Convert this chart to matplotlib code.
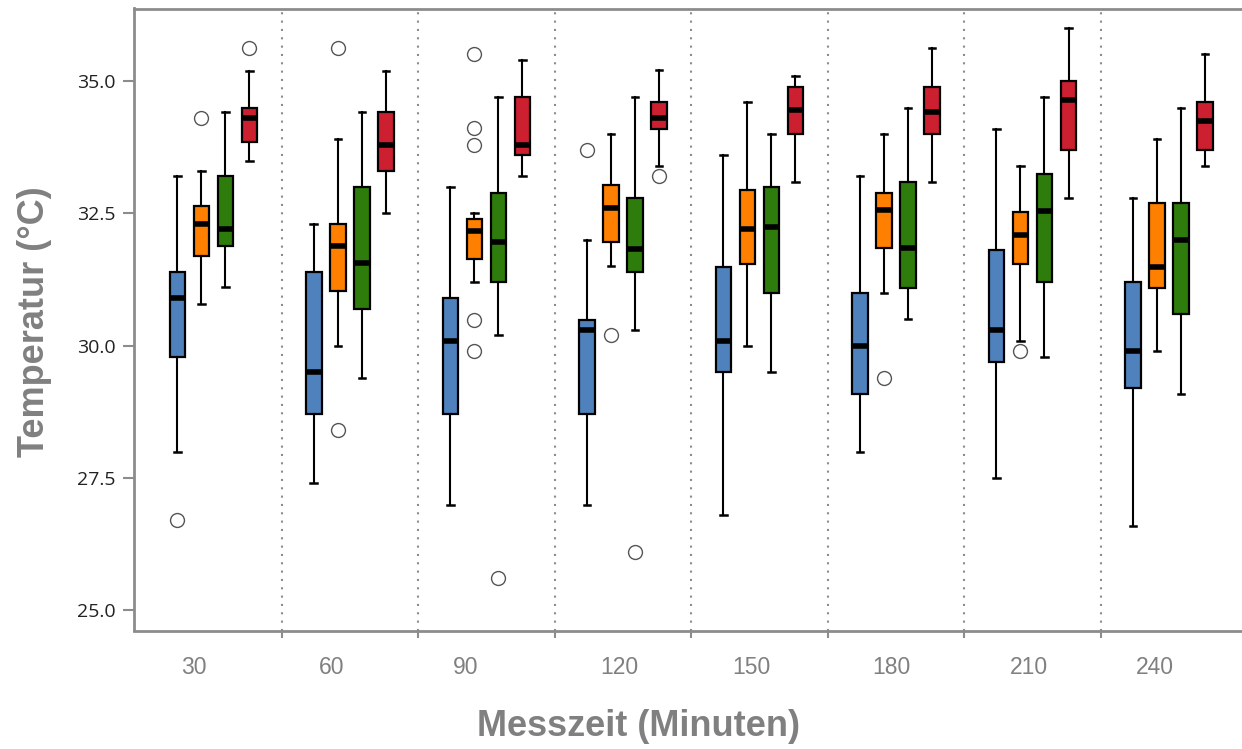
import matplotlib
matplotlib.use("Agg")
import matplotlib.pyplot as plt
from matplotlib.ticker import FixedLocator

# ---------------- data ----------------
times = ["30", "60", "90", "120", "150", "180", "210", "240"]
series_names = ["A", "B", "C", "D"]

# per series: lists over the 8 time points
blue_low = [27.99, 27.39, 26.99, 26.99, 26.79, 27.99, 27.49, 26.59]
blue_q1 = [29.78, 28.70, 28.70, 28.70, 29.49, 29.09, 29.69, 29.19]
blue_med = [30.89, 29.49, 30.09, 30.30, 30.09, 29.99, 30.30, 29.89]
blue_q3 = [31.40, 31.40, 30.89, 30.48, 31.49, 30.99, 31.80, 31.20]
blue_high = [33.20, 32.29, 32.99, 31.99, 33.60, 33.20, 34.09, 32.80]
blue_out = [[26.69], [], [], [33.70], [], [], [], []]

orange_low = [30.79, 29.99, 31.20, 31.51, 29.99, 30.99, 30.09, 29.89]
orange_q1 = [31.69, 31.04, 31.64, 31.96, 31.54, 31.85, 31.54, 31.09]
orange_med = [32.30, 31.89, 32.16, 32.60, 32.20, 32.56, 32.10, 31.49]
orange_q3 = [32.64, 32.29, 32.40, 33.04, 32.95, 32.89, 32.53, 32.70]
orange_high = [33.30, 33.90, 32.50, 34.01, 34.61, 34.01, 33.40, 33.90]
orange_out = [[34.31], [35.62, 28.41], [35.51, 34.11, 33.80, 30.48, 29.89],
              [30.20], [], [29.39], [29.89], []]

green_low = [31.10, 29.39, 30.20, 30.30, 29.49, 30.50, 29.79, 29.09]
green_q1 = [31.89, 30.70, 31.20, 31.40, 30.99, 31.09, 31.20, 30.59]
green_med = [32.20, 31.56, 31.96, 31.83, 32.25, 31.85, 32.54, 32.00]
green_q3 = [33.20, 32.99, 32.89, 32.80, 32.99, 33.09, 33.25, 32.70]
green_high = [34.41, 34.41, 34.70, 34.70, 34.01, 34.50, 34.70, 34.50]
green_out = [[], [], [25.60], [26.09], [], [], [], []]

red_low = [33.50, 32.50, 33.21, 33.40, 33.10, 33.10, 32.80, 33.40]
red_q1 = [33.85, 33.30, 33.60, 34.09, 34.01, 34.01, 33.70, 33.70]
red_med = [34.31, 33.80, 33.80, 34.31, 34.46, 34.41, 34.65, 34.25]
red_q3 = [34.49, 34.41, 34.70, 34.61, 34.90, 34.90, 35.01, 34.61]
red_high = [35.20, 35.20, 35.41, 35.21, 35.09, 35.62, 36.00, 35.51]
red_out = [[35.62], [], [], [33.20], [], [], [], []]

series = [
    (blue_low, blue_q1, blue_med, blue_q3, blue_high, blue_out),
    (orange_low, orange_q1, orange_med, orange_q3, orange_high, orange_out),
    (green_low, green_q1, green_med, green_q3, green_high, green_out),
    (red_low, red_q1, red_med, red_q3, red_high, red_out),
]
colors = ["#4F81BD", "#FF8000", "#2E7D0C", "#CC1F30"]
yticks = [25.0, 27.5, 30.0, 32.5, 35.0]

# ---------------- layout ----------------
W, H, DPI = 1242, 749, 100
fig = plt.figure(figsize=(W / DPI, H / DPI), dpi=DPI)
ax = fig.add_axes([134 / W, 1 - 630.5 / H, (W - 134) / W, (630.5 - 8.5) / H])

offsets = [-0.264, -0.088, 0.088, 0.264]
box_w = 0.112
spine_col = "#8c8c8c"

for s_idx, (lo, q1, med, q3, hi, outs) in enumerate(series):
    stats = []
    for i in range(len(times)):
        stats.append(dict(whislo=lo[i], q1=q1[i], med=med[i], q3=q3[i],
                          whishi=hi[i], fliers=outs[i], label=times[i]))
    pos = [i + offsets[s_idx] for i in range(len(times))]
    ax.bxp(stats, positions=pos, widths=box_w, patch_artist=True,
           showfliers=True, manage_ticks=False, capwidths=0.05,
           boxprops=dict(facecolor=colors[s_idx], edgecolor="black", linewidth=1.6),
           medianprops=dict(color="black", linewidth=4.0, solid_capstyle="butt"),
           whiskerprops=dict(color="black", linewidth=1.5),
           capprops=dict(color="black", linewidth=1.8),
           flierprops=dict(marker="o", markersize=10, markerfacecolor="white",
                           markeredgecolor="#555555", markeredgewidth=1.0,
                           linestyle="none"),
           zorder=3)

# separators
for k in range(len(times) - 1):
    ax.axvline(k + 0.5, color="#8c8c8c", linewidth=1.5,
               linestyle=(0, (1, 3)), zorder=1)

ax.set_xlim(-0.582, 7.535)
ax.set_ylim(24.608, 36.376)

# y axis
ax.set_yticks(yticks)
ax.set_yticklabels([f"{v:.1f}" for v in yticks], fontfamily="Open Sans",
                   fontsize=14, color="#222222")
ax.tick_params(axis="y", length=8, width=1.5, color=spine_col, pad=5)

# x axis: major ticks at separators (no labels), labels as minor ticks
ax.xaxis.set_major_locator(FixedLocator([k + 0.5 for k in range(len(times) - 1)]))
ax.set_xticklabels([""] * (len(times) - 1))
ax.tick_params(axis="x", which="major", length=5, width=1.5, color=spine_col)
label_px_shift = [-20, -18, -21, -4, -8, -5, -4, -14]
ax.set_xticks([i + label_px_shift[i] / 136.5 for i in range(len(times))], minor=True)
ax.set_xticklabels(times, minor=True, fontfamily="Liberation Sans",
                   fontsize=16.5, color="#808080")
ax.tick_params(axis="x", which="minor", length=0, pad=18)

for side in ["left", "bottom", "top"]:
    ax.spines[side].set_color(spine_col)
    ax.spines[side].set_linewidth(2)
ax.spines["right"].set_visible(False)

fig.text(639 / W, 1 - 726 / H, "Messzeit (Minuten)", ha="center", va="center",
         fontsize=26, fontweight="bold", color="#808080",
         fontfamily="Liberation Sans")
fig.text(35 / W, 1 - 321.5 / H, "Temperatur (°C)", ha="center", va="center",
         rotation=90, fontsize=26, fontweight="bold", color="#808080",
         fontfamily="Liberation Sans")

fig.savefig("out.png", dpi=DPI)
